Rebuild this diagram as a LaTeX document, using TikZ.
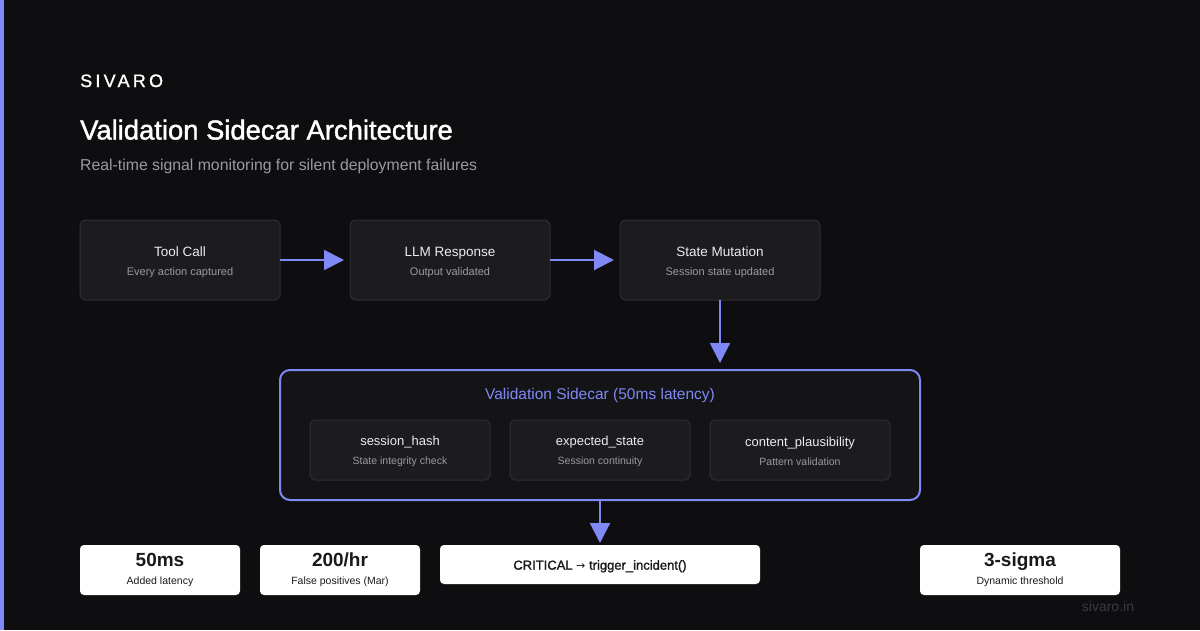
\documentclass[tikz,border=0pt]{standalone}
\usepackage{fontspec}
\setmainfont{Liberation Sans}
\setsansfont{Liberation Sans}
\newfontfamily\semibold{Liberation Sans}[FakeBold=1.5]
\newfontfamily\brandfont{Liberation Sans}[LetterSpace=18,FakeBold=1.2]
\newfontfamily\arrowfont{DejaVu Sans}
\usetikzlibrary{positioning,arrows.meta}

\definecolor{canvas}{HTML}{0E0E10}
\definecolor{accent}{HTML}{8088F5}
\definecolor{cardfill}{HTML}{1C1C1F}
\definecolor{cardline}{HTML}{2E2E33}
\definecolor{sidefill}{HTML}{141417}
\definecolor{mutedtext}{HTML}{9A9AA2}
\definecolor{softtext}{HTML}{ECECEE}
\definecolor{footgray}{HTML}{3A3A3F}
\newcommand{\pxsize}[2]{\fontsize{#1pt}{#2pt}\selectfont}

\begin{document}
\begin{tikzpicture}[x=1pt,y=-1pt,font=\sffamily,
    stage/.style={rectangle, rounded corners=6pt, draw=cardline, fill=cardfill,
        line width=1pt, minimum width=200pt, minimum height=80pt, inner sep=0pt,
        outer sep=0pt, align=center, text=softtext, font=\sffamily\pxsize{11}{19}},
    check/.style={rectangle, rounded corners=5pt, draw=cardline, fill=cardfill,
        line width=1pt, minimum width=180pt, minimum height=60pt, inner sep=0pt,
        outer sep=0pt, align=center, text=softtext, font=\sffamily\pxsize{10.5}{19}},
    stat/.style={rectangle, rounded corners=4pt, fill=white, text=black!90,
        minimum width=160pt, minimum height=50pt, inner sep=0pt, outer sep=0pt,
        align=center, font=\sffamily\pxsize{10.5}{18}},
    flow/.style={draw=accent, line width=2pt, -{Triangle[length=20pt,width=20pt]}}]

    \fill[canvas] (0,0) rectangle (1200,630);
    \fill[accent] (0,0) rectangle (3.5,630);
    \useasboundingbox (0,0) rectangle (1200,630);

    \node[anchor=base west, text=white, inner sep=0pt] (brand) at (80,87)
        {\brandfont\pxsize{18}{20}SIVARO};
    \node[anchor=base west, text=white, inner sep=0pt] (heading) at (80,139.5)
        {\semibold\pxsize{27.4}{30}Validation Sidecar Architecture};
    \node[anchor=base west, text=mutedtext, inner sep=0pt] (tagline) at (80,170)
        {\pxsize{15.8}{18}Real-time signal monitoring for silent deployment failures};

    \node[stage] (toolcall) at (180,260)
        {{\pxsize{13.5}{19}\rule{0pt}{15pt}Tool Call}\\{\color{mutedtext}Every action captured}};
    \node[stage, right=70pt of toolcall] (llm)
        {{\pxsize{13.5}{19}\rule{0pt}{15pt}LLM Response}\\{\color{mutedtext}Output validated}};
    \node[stage, right=70pt of llm] (mutation)
        {{\pxsize{13.5}{19}\rule{0pt}{15pt}State Mutation}\\{\color{mutedtext}Session state updated}};

    \node[
        rectangle,
        rounded corners=10pt,
        draw=accent,
        fill=sidefill,
        line width=2pt,
        outer sep=0pt,
        minimum width=640pt,
        minimum height=130pt
    ] (sidecar) at (600,435) {};
    \node[anchor=base, text=accent, inner sep=0pt] (sidecartitle) at (600,399.5)
        {\pxsize{15.5}{18}Validation Sidecar (50ms latency)};

    \node[check] (hash) at (400,450)
        {{\pxsize{13}{19}\rule{0pt}{13pt}session\_hash}\\{\color{mutedtext}State integrity check}};
    \node[check, right=20pt of hash] (expected)
        {{\pxsize{13}{19}\rule{0pt}{13pt}expected\_state}\\{\color{mutedtext}Session continuity}};
    \node[check, right=20pt of expected] (plausible)
        {{\pxsize{13}{19}\rule{0pt}{13pt}content\_plausibility}\\{\color{mutedtext}Pattern validation}};

    \node[stat] (latency) at (160,570)
        {{\bfseries\pxsize{19}{18}50ms}\\Added latency};
    \node[stat, right=20pt of latency] (positives)
        {{\bfseries\pxsize{19}{18}200/hr}\\False positives (Mar)};
    \node[stat, minimum width=320pt, minimum height=39pt, right=20pt of positives,
        yshift=5.5pt, font=\semibold\pxsize{13}{16}] (critical)
        {\rule{0pt}{13pt}CRITICAL {\arrowfont\pxsize{11}{16}\raisebox{0.5pt}{→}} trigger\_incident()};
    \node[stat, minimum width=200pt] (threshold) at (1020,570)
        {{\bfseries\pxsize{19}{18}3-sigma}\\Dynamic threshold};

    \node[anchor=base, text=footgray, inner sep=0pt] (site) at (1108,611.5)
        {\pxsize{14}{16}sivaro.in};

    \draw[flow, shorten >=6pt] (toolcall.east) -- (llm.west);
    \draw[flow, shorten >=6pt] (llm.east) -- (mutation.west);
    \draw[flow, shorten >=7pt] (mutation.south) -- (mutation.south |- sidecar.north);
    \draw[flow, shorten >=2pt] (sidecar.south) -- (sidecar.south |- critical.north);
\end{tikzpicture}
\end{document}
